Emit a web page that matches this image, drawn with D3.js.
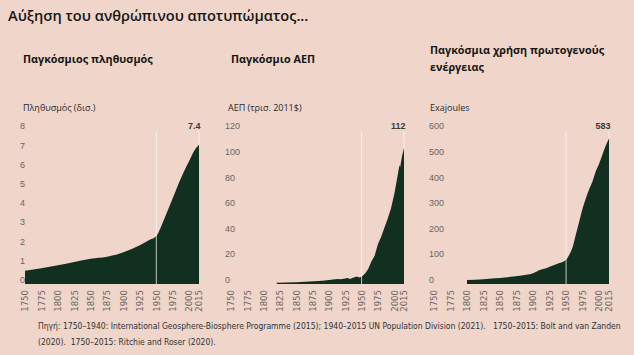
<!DOCTYPE html>
<html>
<head>
<meta charset="utf-8">
<script src="https://cdn.jsdelivr.net/npm/d3@7"></script>
<style>
  html, body { margin: 0; padding: 0; background: #efd5ca; }
  svg { display: block; }
</style>
</head>
<body>
<svg id="chart" width="634" height="355"></svg>
<script>
// ---------------- DATA ----------------
const mainTitle = "Αύξηση του ανθρώπινου αποτυπώματος...";

const panelTitles = [["Παγκόσμιος πληθυσμός"], ["Παγκόσμιο ΑΕΠ"], ["Παγκόσμια χρήση πρωτογενούς", "ενέργειας"]];
const panelUnits = ["Πληθυσμός (δισ.)", "ΑΕΠ (τρισ. 2011$)", "Exajoules"];
const panelAnnotations = ["7.4", "112", "583"];

const xTickLabels = [1750, 1775, 1800, 1825, 1850, 1875, 1900, 1925, 1950, 1975, 2000, 2015];

const popYTicks = [0, 1, 2, 3, 4, 5, 6, 7, 8];
const gdpYTicks = [0, 20, 40, 60, 80, 100, 120];
const energyYTicks = [0, 100, 200, 300, 400, 500, 600];

const popYears  = [1750, 1775, 1800, 1825, 1850, 1875, 1900, 1925, 1940, 1950, 1960, 1970, 1980, 1990, 2000, 2008, 2015];
const popValues = [0.69, 0.82, 0.98, 1.15, 1.32, 1.42, 1.66, 2.02, 2.30, 2.50, 3.22, 4.05, 4.90, 5.70, 6.40, 6.95, 7.25];

const gdpYears  = [1820, 1850, 1870, 1890, 1900, 1913, 1918, 1925, 1929, 1932, 1938, 1943, 1947, 1950, 1955, 1960, 1965, 1970, 1975, 1980, 1985, 1990, 1995, 2000, 2005, 2008, 2009, 2012, 2015];
const gdpValues = [0.9, 1.3, 1.9, 2.6, 3.1, 4.0, 3.7, 4.3, 4.7, 4.0, 5.0, 5.8, 5.0, 5.6, 8.0, 11.5, 17.5, 22, 31, 37, 44, 51, 59, 70, 84, 93, 91, 100, 106];

const energyYears  = [1800, 1825, 1850, 1870, 1890, 1900, 1910, 1920, 1930, 1940, 1950, 1955, 1960, 1965, 1970, 1975, 1980, 1985, 1990, 1995, 2000, 2005, 2010, 2015];
const energyValues = [16, 19, 23, 29, 36, 42, 55, 62, 72, 82, 95, 115, 145, 195, 245, 295, 335, 370, 400, 440, 470, 505, 540, 568];

const sourceLines = [
  "Πηγή: 1750–1940: International Geosphere-Biosphere Programme (2015); 1940–2015 UN Population Division (2021).   1750–2015: Bolt and van Zanden",
  "(2020).  1750–2015: Ritchie and Roser (2020)."
];

// ---------------- STYLE / LAYOUT ----------------
const areaColor = "#11301f";
const textDark = "#161616";
const tickColor = "#6b6461";
const guideColor = "rgba(255,250,245,0.75)";
const font = "'Open Sans', 'Noto Sans', sans-serif";

const svg = d3.select("#chart");

svg.append("text")
  .attr("x", 8).attr("y", 21)
  .attr("font-family", font).attr("font-size", 14.6).attr("font-weight", 600)
  .attr("fill", textDark)
  .text(mainTitle);

const panels = [
  { years: popYears, values: popValues, ticks: popYTicks, x0: 25, x1: 199, labelX: 20, titleX: 23, unitX: 23, curve: d3.curveMonotoneX },
  { years: gdpYears, values: gdpValues, ticks: gdpYTicks, x0: 231, x1: 404, labelX: 225, titleX: 231, unitX: 228, curve: d3.curveLinear },
  { years: energyYears, values: energyValues, ticks: energyYTicks, x0: 434, x1: 609, labelX: 429, titleX: 430, unitX: 430, curve: d3.curveMonotoneX }
];

const yBottom = 284, yTop = 130.4;

panels.forEach((p, i) => {
  const g = svg.append("g");
  const x = d3.scaleLinear().domain([1750, 2015]).range([p.x0, p.x1]);
  const y = d3.scaleLinear().domain([0, d3.max(p.ticks)]).range([yBottom, yTop]);

  // titles
  const lines = panelTitles[i];
  const titleY = lines.length > 1 ? 54 : 63;
  lines.forEach((t, k) => {
    g.append("text")
      .attr("x", p.titleX).attr("y", titleY + k * 17)
      .attr("font-family", font).attr("font-weight", 700).attr("font-size", 10.8)
      .attr("fill", textDark)
      .text(t);
  });
  g.append("text")
    .attr("x", p.unitX).attr("y", 111)
    .attr("font-family", font).attr("font-size", 9)
    .attr("fill", "#2a2a2a")
    .text(panelUnits[i]);

  // area
  const data = p.years.map((yr, k) => ({ yr, v: p.values[k] }));
  const area = d3.area()
    .x(d => x(d.yr)).y0(y(0)).y1(d => y(d.v))
    .curve(p.curve);
  g.append("path").datum(data)
    .attr("d", area)
    .attr("fill", areaColor);

  // y tick labels
  g.selectAll(".ytick").data(p.ticks).enter().append("text")
    .attr("x", p.labelX).attr("y", d => y(d) - 1)
    .attr("font-family", "'Liberation Sans', sans-serif").attr("font-size", 9)
    .attr("fill", tickColor)
    .text(d => d);

  // x tick labels (rotated)
  g.selectAll(".xtick").data(xTickLabels).enter().append("text")
    .attr("transform", d => `translate(${x(d) + 3.3},290) rotate(-90)`)
    .attr("text-anchor", "end")
    .attr("font-family", "'Liberation Sans Narrow', 'DejaVu Sans Condensed', sans-serif").attr("font-size", 9.5)
    .attr("fill", tickColor)
    .text(d => d);

  // guide lines at 1950 and 2015
  const last = data[data.length - 1];
  g.append("line")
    .attr("x1", x(1950)).attr("x2", x(1950))
    .attr("y1", 131).attr("y2", yBottom)
    .attr("stroke", guideColor).attr("stroke-width", 1);
  g.append("line")
    .attr("x1", x(2015)).attr("x2", x(2015))
    .attr("y1", 131).attr("y2", y(last.v))
    .attr("stroke", guideColor).attr("stroke-width", 1);

  // annotation
  g.append("text")
    .attr("x", x(2015) + 1.5).attr("y", 128.5)
    .attr("text-anchor", "end")
    .attr("font-family", "'Liberation Sans', sans-serif").attr("font-weight", 700).attr("font-size", 9)
    .attr("fill", "#3a3a3a")
    .text(panelAnnotations[i]);
});

// source
sourceLines.forEach((t, k) => {
  svg.append("text")
    .attr("x", 38).attr("y", 329 + k * 16)
    .attr("font-family", "'Liberation Sans Narrow', 'DejaVu Sans Condensed', sans-serif")
    .attr("font-size", 8.5)
    .attr("fill", "#333")
    .style("white-space", "pre")
    .text(t);
});
</script>
</body>
</html>
